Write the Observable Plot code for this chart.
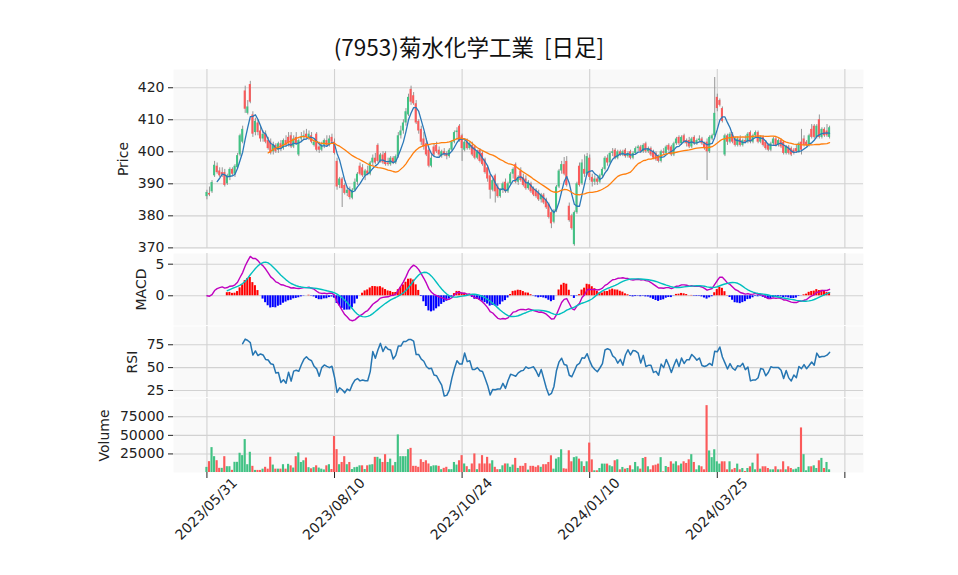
<!DOCTYPE html>
<html><head><meta charset="utf-8">
<script src="https://cdn.jsdelivr.net/npm/d3@7"></script>
<script src="https://cdn.jsdelivr.net/npm/@observablehq/plot@0.6"></script>
<style>
body{margin:0;background:#fff;}
#wrap{position:relative;width:958px;height:575px;overflow:hidden;font-family:"DejaVu Sans",sans-serif;}
#title{position:absolute;left:0;width:938px;top:32px;line-height:28px;text-align:center;font-size:22.5px;font-family:"Noto Sans CJK JP",sans-serif;color:#111;white-space:pre;}
.panel{position:absolute;left:0;}
</style></head>
<body><div id="wrap"><div id="title">(7953)菊水化学工業  [日足]</div></div>
<script>
// ---- data (trading-day index 0 = 2023/05/31) ----
const opens = [386,387,387.5,392.5,395.5,394,393.5,393.5,390,392,394.5,393,395,399,403,419,412,421,411.5,406,409,406.5,404,405.5,403.5,403,400,402,400.5,402.5,401,403.5,404.5,405,401.5,404.5,399,404,404.5,405.5,404.5,405,402,405.5,401.5,400.5,402,403.5,402,404.5,403,397,389.5,391.5,389.5,387,388,385.5,388,390.5,395.5,395,392.5,394,393,396.5,398,402,397,399,399.5,396.5,396,398,396.5,398.5,405,406.5,409,411.5,419.5,417.5,415,409.5,407,404,402.5,400.5,395.5,401.5,402,400.5,398.5,400,399.5,398.5,400.5,403,406,408,405,400.5,403,401,402,401.5,398,400.5,399.5,397.5,395,392.5,388,392.5,389,386,388,390.5,387.5,390,393,396,390.5,394,392,391.5,388.5,390,388.5,388,387,385,386.5,385,383.5,381,378,381.5,389,394,396,397,383,380,371,381,395.5,390,394.5,393,398,392,390.5,391.5,390.5,392.5,394.5,398,396.5,399.5,400.5,398,400,399,400.5,398.5,400,398,399.5,401,401.5,400,402.5,400,401,400,399.5,398.5,397,400,399.5,402,401.5,399,402.5,404.5,402.5,405,403.5,403.5,401.5,404.5,402.5,403.5,404,402.5,403,400,404,405,417,416,413.5,399,405,403,405.5,404,402,404,402,403.5,403,406,403,405,406,403,404.5,403,402,400.5,402.5,404,402,403.5,403,399.5,401.5,401,400.5,401,400,403,404,403,402,407,408,404.5,410,404.5,407,406.5,404.5];
const highs = [388,389,391,397,396.5,395,395,394.5,393,395,395,396,399.5,405.5,408,420.5,416,422,412.5,410.5,410,408,406.5,406.5,404.5,404,403,402.5,403,403.5,404,405,406,406,405,406,404,406,406.5,407,406.5,406,404,406,403,403,404,405,405,405.5,404,398,392,392,390,389,389,388.5,391.5,393.5,396.5,396,394.5,395.5,397,399,399.5,402.5,399.5,400,400,398,398.5,398.5,399,406,408,410,413.5,418,420.5,418.5,416,410,408,406,404,401,399,402.5,403,401.5,400.5,401,400,401,403.5,406.5,407.5,408.5,405.5,403.5,404,403,403,402,400.5,401,400,398,395.5,393,391.5,393,390,388.5,390.5,391.5,390.5,393.5,395,396.5,392.5,395,393,392.5,391,390.5,389,388.5,388,387,387,385.5,384,382,382,389.5,394.5,397,398.2,398.5,384,380.5,381.5,390.5,396.5,397.5,399,399.5,399,393,392.5,392,393,395,398.5,399,400,401,401,400.5,400.5,400.5,401,400,400.5,400,401.5,402,402,402.5,403,401.5,401.5,400.5,400,399,400.5,401,402,402.5,402,403,404.5,405,405,405.5,404,404.5,404.5,405,404,405,404.5,403,404,405,405.5,423.2,418,416.5,414,405.5,405.5,406,406,404.5,404.5,405,404,405,406,406.5,405.5,406.5,406.5,405,405,403.5,402.5,403,404.5,404.5,404,404,403.5,402,402,401.5,401,402,403,407,405,403.5,405.5,408.5,408.5,408.5,411.5,407.5,407.5,408.5,408];
const lows = [385,386,387,392,393,392,392,389,389.5,391,392.5,392,394.5,398.5,402.5,412,411.5,415,404.5,405,405,403,403,402.5,400.5,399,399,399.5,399.5,400,400.5,401.5,401.5,401,401,402,398.5,403,403.5,404,403.5,402.5,401.5,400,399.5,400,401,401.5,401.5,402.5,399,388,388.5,382.6,386.5,386,385,385,387.5,389.5,392.5,392,391,392.5,392.5,395.5,396,396.5,396.5,396,395.5,395.5,395.5,396,396,398,404,405.5,408,411,414.5,414.5,408.5,405.5,402,400.5,398.5,395,395,398.5,399.5,398.5,398,398.5,397.5,398,400,402.5,403.5,403,397,400,400.5,400.5,398.5,397.5,397.5,396.5,395.5,393,390.5,385.2,387.5,384,385.5,385.5,387,387,387,389.5,391.5,390,389.5,390.5,389,388,388,387,386,385.5,384.5,384,383.5,382,379,376,377.5,381,388.5,393,392.5,389,378,375.5,370.5,380.5,389,389.5,392,392.5,391,389,389.5,389.5,390,392,394,395.5,396,398.5,397.5,397.5,398.5,398.5,398,398,397.5,397.5,399,400,399.5,399.5,399.5,399.5,398.5,397.5,397,396.5,396.5,399,399,400,398.5,398.5,402,402,402,402.5,401.5,401,401,402,402,403,402,400.5,391,399.5,403.5,404.5,412.5,414,409,398.5,402,402.5,402.5,401.5,401.5,401.5,401.5,402.5,402.5,402.5,402.5,404.5,402.5,402.5,401.5,400.5,400,400,402,401.5,401.5,401,399,399,399,398.5,399,399.5,399.5,399,401.5,401.5,401.5,404,404,404,404,404,404.5,404.5,404];
const closes = [387.3,386.5,390.4,395.8,393.5,392.5,392.8,389.5,392.5,394.5,393,395.5,398.8,405,407,413.3,414,415.5,405.5,409.5,406,404,405.5,403,401,399.5,402,400,402.5,401,403.5,402,402.5,401.5,404,402.5,403.5,404.5,405,404.5,405.5,403,403,400.5,400.5,402,403.5,402,404,403,399.5,389,391.5,388.5,387,388,385.7,388,390.5,393,393,392.5,394,393,396.5,398,396.5,397,399,396.5,396,396,398,396.5,398.5,405,406.5,409,412.5,417,415.5,415,409,406.5,403,401.5,399,395.5,398,399,400,399,400,399,398.5,400.5,403,406,406.5,403.5,401,403,401,402.5,399,398,400,397,396,393.5,391.5,388,391,387.5,386,388,390,387.5,390,393,394.5,390.5,392,391,389.5,388.5,390.5,387.5,386.5,386,385,386.5,384,382.5,379.5,377.5,381.5,389,394,396,393,389.5,378.5,376,381,390,389.5,396.5,393,398.5,392,390.5,391.5,390.5,392.5,394.5,398,396.5,399.5,400,398,400,399,400,398.5,399.5,398,399.5,401,401.5,400,402,400,401,399,398,397.5,397,400,399.5,401.5,400.5,399,402.5,404,402.5,404.5,403,402.5,401.5,404,402.5,403.5,404,402.5,401,400,404.5,405,412,413.5,414.5,409.5,405,403,405.5,403,402,404,402,403.5,403,405.5,403,405,406,403,404.5,402,401,400.5,402.5,404,402,403.5,401.5,399.5,401.5,399.5,399,399.5,400,402.5,400.5,402,402,405,404.5,404.5,408,404.5,407,405,405,407.5];
const volumes = [6900,14600,33500,21300,15900,5600,5600,21300,7800,7800,2900,13700,13700,25900,22700,44300,10500,27200,8300,2800,2800,2800,4500,7000,4500,20500,10000,4500,4500,4500,10500,4500,11000,9000,6000,21300,26300,13500,15800,19500,6500,5000,6500,9000,6000,4500,3500,9000,10500,4000,48400,30800,10500,13500,21300,10500,13500,4000,6500,7000,9000,9000,4000,9000,10000,10500,20400,20400,18000,13500,24000,13500,18000,9000,13500,50600,21300,21300,21300,30700,32500,8300,8300,7000,17200,13500,15800,11500,7800,9000,9000,8300,3800,5600,7000,3800,3800,13500,10000,15800,22700,11500,7800,3800,11500,25000,3800,11500,22700,11500,20400,11500,15800,7000,3800,3800,9000,11500,11500,7000,10000,19000,5500,8300,8300,12000,3200,8300,8300,7000,9000,7000,10500,10500,13500,22500,4500,18000,20000,30600,5000,4500,29250,14400,20000,21000,18000,14400,8000,14400,39600,17000,2300,2300,5400,11300,11300,11300,9000,7700,15800,17100,3600,6800,4500,5400,9000,3600,13500,7700,4500,18900,20300,7700,3600,9000,9900,11300,20000,900,8100,6800,14400,11300,14400,9000,11300,14400,12200,17100,24000,13500,3600,9000,7700,3600,90000,29000,20000,30600,14400,11300,14400,14400,3600,14400,3600,5400,11300,3600,5400,1400,5400,7700,12600,3600,24700,4500,7700,7700,5400,3600,3600,7700,3600,3600,14400,3600,7700,5400,3600,4500,6800,60000,24000,2300,7700,7700,9000,5400,15800,19000,5400,13500,3600];
const tickIdx = [0, 50, 100, 150, 200, 250];
const tickLabels = ["2023/05/31", "2023/08/10", "2023/10/24", "2024/01/10", "2024/03/25", ""];
const priceTicks = [370, 380, 390, 400, 410, 420];
const macdTicks = [0, 5];
const rsiTicks = [25, 50, 75];
const volTicks = [25000, 50000, 75000];

// ---- derived indicators (from closes) ----
const N = closes.length;
function sma(a, k){ return a.map((_, i) => i < k - 1 ? NaN : d3.mean(a.slice(i - k + 1, i + 1))); }
function ema(a, span){ const al = 2/(span+1); const o = []; a.forEach((v, i) => o.push(i === 0 ? v : al*v + (1-al)*o[i-1])); return o; }
const ma5 = sma(closes, 5), ma25 = sma(closes, 25);
const e12 = ema(closes, 12), e26 = ema(closes, 26);
const macd = e12.map((v, i) => v - e26[i]);
const signal = sma(macd, 9);
const hist = macd.map((v, i) => v - signal[i]);
const rsi = closes.map((_, i) => {
  if (i < 14) return NaN;
  let g = 0, l = 0;
  for (let j = i - 13; j <= i; j++) { const d = closes[j] - closes[j-1]; if (d > 0) g += d; else l -= d; }
  return l === 0 ? 100 : 100 - 100/(1 + g/l);
});
const rows = d3.range(N).map(i => ({i, o: opens[i], h: highs[i], l: lows[i], c: closes[i], v: volumes[i],
  ma5: ma5[i], ma25: ma25[i], macd: macd[i], signal: signal[i], hist: hist[i], rsi: rsi[i],
  vup: i === 0 ? closes[0] >= opens[0] : closes[i] >= closes[i-1]}));

// ---- style ----
const UP = "#41c284", DOWN = "#fb5a5a", GRID = "#d2d2d2", BG = "#f9f9f9";
const xDomain = [-13.1, 257.3];
const W = 958, ML = 173, MR = 95, FS = 14;
const wrap = document.getElementById("wrap");
const baseStyle = {fontFamily: "DejaVu Sans, sans-serif", fontSize: FS + "px", color: "#222", background: "transparent", overflow: "visible"};
function place(svg, top){ svg.classList.add("panel"); svg.style.top = top + "px"; wrap.appendChild(svg); }
const gridX = Plot.gridX(tickIdx, {stroke: GRID, strokeOpacity: 1, strokeWidth: 1.1});
const ylabel = (t, dx) => Plot.text([t], {frameAnchor: "left", textAnchor: "middle", rotate: -90, dx, fontSize: FS, fill: "#222"});
const yaxis = (ticks) => Plot.axisY(ticks, {tickSize: 5, tickPadding: 4, fontSize: FS, tickFormat: d => String(d), stroke: "#222", label: null});

// Price panel
place(Plot.plot({
  width: W, height: 179, marginLeft: ML, marginRight: MR, marginTop: 0, marginBottom: 0, style: baseStyle,
  x: {domain: xDomain, axis: null},
  y: {domain: [369.8, 425.7], axis: null},
  marks: [
    Plot.frame({fill: BG, stroke: null}),
    gridX,
    Plot.gridY(priceTicks, {stroke: GRID, strokeOpacity: 1, strokeWidth: 1.1}),
    Plot.ruleX(rows, {x: "i", y1: "l", y2: "h", stroke: "#8a8a8a", strokeWidth: 0.9}),
    Plot.rect(rows, {x1: d => d.i - 0.4, x2: d => d.i + 0.4, y1: "o", y2: "c", fill: d => d.c >= d.o ? UP : DOWN}),
    Plot.line(rows, {x: "i", y: "ma5", stroke: "#2a78b8", strokeWidth: 1.3}),
    Plot.line(rows, {x: "i", y: "ma25", stroke: "#ff7f0e", strokeWidth: 1.3}),
    yaxis(priceTicks),
    ylabel("Price", -50)
  ]
}), 69);

// MACD panel
place(Plot.plot({
  width: W, height: 72, marginLeft: ML, marginRight: MR, marginTop: 0, marginBottom: 0, style: baseStyle,
  x: {domain: xDomain, axis: null},
  y: {domain: [-4.70, 6.69], axis: null},
  marks: [
    Plot.frame({fill: BG, stroke: null}),
    gridX,
    Plot.gridY(macdTicks, {stroke: GRID, strokeOpacity: 1, strokeWidth: 1.1}),
    Plot.rect(rows.filter(d => !isNaN(d.hist)), {x1: d => d.i - 0.4, x2: d => d.i + 0.4, y1: 0, y2: "hist", fill: d => d.hist >= 0 ? "#ff0000" : "#0000ff", clip: true}),
    Plot.line(rows, {x: "i", y: "macd", stroke: "#bf00bf", strokeWidth: 1.4, clip: true}),
    Plot.line(rows, {x: "i", y: "signal", stroke: "#00bfbf", strokeWidth: 1.4, clip: true}),
    yaxis(macdTicks),
    ylabel("MACD", -32)
  ]
}), 253);

// RSI panel
place(Plot.plot({
  width: W, height: 71, marginLeft: ML, marginRight: MR, marginTop: 0, marginBottom: 0, style: baseStyle,
  x: {domain: xDomain, axis: null},
  y: {domain: [17.3, 95], axis: null},
  marks: [
    Plot.frame({fill: BG, stroke: null}),
    gridX,
    Plot.gridY(rsiTicks, {stroke: GRID, strokeOpacity: 1, strokeWidth: 1.1}),
    Plot.line(rows, {x: "i", y: "rsi", stroke: "#2676b2", strokeWidth: 1.5, clip: true}),
    yaxis(rsiTicks),
    ylabel("RSI", -41)
  ]
}), 326);

// Volume panel
place(Plot.plot({
  width: W, height: 177, marginLeft: ML, marginRight: MR, marginTop: 0, marginBottom: 103, style: baseStyle,
  x: {domain: xDomain, axis: null},
  y: {domain: [0, 99600], axis: null},
  marks: [
    Plot.frame({fill: BG, stroke: null}),
    gridX,
    Plot.gridY(volTicks, {stroke: GRID, strokeOpacity: 1, strokeWidth: 1.1}),
    Plot.rect(rows, {x1: d => d.i - 0.42, x2: d => d.i + 0.42, y1: 0, y2: "v", fill: d => d.vup ? UP : DOWN}),
    yaxis(volTicks),
    Plot.axisX(tickIdx, {tickSize: 6, tickFormat: () => "", stroke: "#222", label: null}),
    Plot.axisX(tickIdx, {tickSize: 0, tickPadding: 9, tickRotate: -45, fontSize: FS, label: null,
      tickFormat: d => tickLabels[tickIdx.indexOf(d)], dx: 28, dy: -1}),
    ylabel("Volume", -69)
  ]
}), 398);
</script>
</body></html>
